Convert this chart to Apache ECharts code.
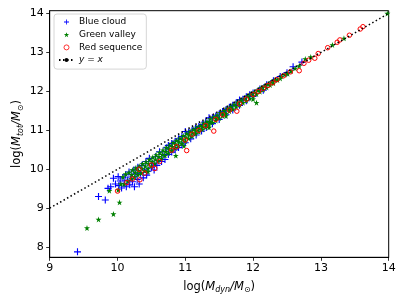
<!DOCTYPE html>
<html>
<head>
<meta charset="utf-8">
<script src="https://cdn.jsdelivr.net/npm/echarts@6/dist/echarts.min.js"></script>
<style>html,body{margin:0;padding:0;background:#fff}#c{width:407px;height:305px}</style>
</head>
<body>
<div id="c"></div>
<script>
// ---- data ----
const seriesNames = ['Blue cloud', 'Green valley', 'Red sequence', 'y = x'];
const xTicks = [9, 10, 11, 12, 13, 14];
const yTicks = [8, 9, 10, 11, 12, 13, 14];

const blueCloud = [
  [9.41,7.88],[9.72,9.30],[9.82,9.21],[9.86,9.51],[9.94,9.77],[10.01,9.81],[9.90,9.55],[9.97,9.62],
  [10.02,9.58],[10.04,9.70],[10.06,9.52],[10.08,9.78],[10.10,9.64],[10.12,9.86],[10.13,9.55],[10.15,9.72],
  [10.17,9.93],[10.18,9.60],[10.20,9.80],[10.22,9.68],[10.24,9.98],[10.25,9.55],[10.27,9.88],[10.29,9.74],
  [10.30,10.05],[10.32,9.62],[10.34,9.90],[10.36,10.10],[10.38,9.78],[10.40,10.00],[10.42,10.20],[10.43,9.85],
  [10.45,9.95],[10.47,10.28],[10.50,10.05],[10.52,10.15],[10.54,9.98],[10.56,10.32],[10.58,10.10],[10.60,10.22],
  [10.62,10.45],[10.65,10.20],[10.67,10.38],[10.70,10.25],[10.72,10.55],
  [10.75,10.61],[10.80,10.66],[10.85,10.72],[10.90,10.78],[10.95,10.84],[11.00,10.97],[11.05,10.95],[11.10,11.00],
  [11.15,11.05],[11.20,11.10],[11.25,11.15],[11.30,11.21],[11.35,11.32],[11.40,11.32],[11.45,11.37],[11.50,11.42],
  [11.55,11.48],[11.60,11.53],[11.65,11.59],[11.70,11.64],[11.75,11.70],[11.80,11.78],[11.85,11.80],[11.90,11.86],
  [11.95,11.91],[12.00,11.96],[12.10,12.06],[12.20,12.17],[12.30,12.27],[12.40,12.38],[12.50,12.48],[12.59,12.63],
  [12.72,12.75],
  [10.75,10.38],[10.80,10.44],[10.85,10.50],[10.90,10.56],[10.95,10.62],[11.00,10.68],[11.08,10.78],[11.16,10.88],
  [11.24,10.98],[11.31,11.07],[11.40,11.17],[11.50,11.28],[11.60,11.40],[11.70,11.52],[11.80,11.64],[11.90,11.76],
  [12.00,11.87],[12.15,12.03]
];

const greenValley = [
  [9.55,8.49],[9.72,8.71],[9.94,8.85],[10.03,9.15],[9.88,9.45],[10.01,9.47],[10.45,9.94],[10.86,10.35],
  [10.98,10.60],[11.35,11.07],[11.60,11.37],[12.00,11.80],[12.05,11.71],[13.98,14.00],[13.34,13.36],[13.17,13.19],
  [12.85,12.88],[12.77,12.83],[10.05,9.62],[10.08,9.80],
  [10.10,9.62],[10.12,9.88],[10.15,9.70],[10.17,9.92],[10.20,9.76],[10.22,9.98],[10.21,9.86],
  [10.25,9.80],[10.27,10.03],[10.26,9.92],[10.30,9.86],[10.32,10.08],[10.31,9.96],
  [10.35,9.90],[10.37,10.14],[10.36,10.02],[10.40,9.96],[10.42,10.19],[10.41,10.08],
  [10.45,10.02],[10.47,10.25],[10.46,10.14],[10.50,10.08],[10.52,10.31],[10.51,10.20],
  [10.55,10.15],[10.57,10.37],[10.56,10.26],[10.60,10.22],[10.62,10.43],[10.61,10.32],
  [10.65,10.28],[10.67,10.49],[10.66,10.38],[10.70,10.35],[10.72,10.56],[10.71,10.45],
  [10.75,10.41],[10.77,10.62],[10.76,10.52],[10.80,10.48],[10.82,10.68],[10.81,10.58],
  [10.85,10.54],[10.87,10.74],[10.86,10.64],[10.90,10.60],[10.92,10.80],[10.91,10.70],
  [10.95,10.66],[10.97,10.86],[10.96,10.76],[11.00,10.72],[11.02,10.92],[11.01,10.82],
  [11.05,10.79],[11.07,10.97],[11.06,10.88],[11.10,10.85],[11.12,11.02],[11.11,10.94],
  [11.15,10.91],[11.17,11.07],[11.16,10.99],[11.20,10.96],[11.22,11.12],[11.21,11.05],
  [11.25,11.02],[11.27,11.18],[11.26,11.10],[11.30,11.08],[11.32,11.23],[11.31,11.16],
  [11.35,11.14],[11.37,11.29],[11.36,11.22],[11.40,11.20],[11.42,11.34],
  [11.45,11.25],[11.47,11.39],[11.46,11.32],[11.50,11.31],[11.52,11.45],
  [11.55,11.37],[11.57,11.50],[11.56,11.44],[11.60,11.43],[11.62,11.56],
  [11.65,11.49],[11.67,11.61],[11.66,11.55],[11.70,11.54],[11.72,11.66],
  [11.75,11.60],[11.77,11.72],[11.80,11.65],[11.82,11.77],[11.85,11.71],[11.87,11.82],
  [11.90,11.76],[11.92,11.88],[11.95,11.82],[11.97,11.93],[12.00,11.88],[12.02,11.98],
  [12.05,11.93],[12.07,12.03],[12.10,11.99],[12.12,12.09],[12.15,12.04],[12.17,12.14],
  [12.20,12.10],[12.22,12.19],[12.25,12.16],[12.27,12.24],[12.30,12.21],[12.32,12.29],
  [12.36,12.29],[12.40,12.33],[12.42,12.39],[12.47,12.43],[12.51,12.45],[12.56,12.52],
  [12.62,12.59],[12.68,12.65]
];

const redSequence = [
  [10.00,9.44],[10.14,9.66],[10.33,9.73],[10.22,9.75],[10.32,10.00],[10.40,9.90],[10.50,10.11],[10.55,10.02],
  [10.62,10.20],[10.80,10.49],[11.02,10.48],[10.87,10.58],[11.00,10.75],[11.10,10.90],[11.20,11.00],[11.30,11.12],
  [11.42,10.98],[11.45,11.28],[11.55,11.40],[11.65,11.52],[11.76,11.49],[11.80,11.68],[11.90,11.80],[12.00,11.92],
  [12.08,12.00],[12.15,12.08],[12.22,12.15],[12.29,12.22],[12.35,12.30],[12.45,12.40],[12.55,12.50],[12.68,12.53],
  [12.75,12.72],[12.82,12.80],[12.91,12.85],[12.96,12.97],[13.10,13.12],[13.24,13.26],[13.28,13.32],[13.42,13.44],
  [13.58,13.60],[13.62,13.66]
];

const identityX = [9, 14];
const identityY = [9, 14];

// ---- chart ----
const FONT = 'DejaVu Sans';
const plusPath = 'path://M4.2,0H5.8V4.2H10V5.8H5.8V10H4.2V5.8H0V4.2H4.2Z';
const starPath = 'path://M50,0L61.2,34.5L97.6,34.5L68.2,55.9L79.4,90.5L50,69.1L20.6,90.5L31.8,55.9L2.4,34.5L38.8,34.5Z';

const chart = echarts.init(document.getElementById('c'), null, {renderer: 'canvas'});

const nameRich = {
  n: {fontFamily: FONT, fontSize: 11.5, color: '#000'},
  i: {fontFamily: FONT, fontSize: 11.5, fontStyle: 'italic', color: '#000'},
  s: {fontFamily: FONT, fontSize: 8, fontStyle: 'italic', color: '#000', padding: [7, 0, 0, 0]},
  o: {fontFamily: FONT, fontSize: 8, color: '#000', padding: [7, 0, 0, 0]}
};

chart.setOption({
  animation: false,
  backgroundColor: '#fff',
  grid: {
    left: 49.7, right: 18.3, top: 10.7, bottom: 47.7, outerBoundsMode: 'none', containLabel: false,
    show: true, borderColor: '#000', borderWidth: 1, backgroundColor: 'transparent'
  },
  xAxis: {
    type: 'value', min: xTicks[0], max: xTicks[xTicks.length - 1], interval: 1,
    axisLine: {show: true, onZero: false, lineStyle: {color: '#000', width: 1}},
    axisTick: {show: true, inside: false, length: 3.5, lineStyle: {color: '#000', width: 0.8}},
    axisLabel: {fontFamily: FONT, fontSize: 11, color: '#000', margin: 5},
    splitLine: {show: false},
    name: '{n|log(}{i|M}{s|dyn}{i|/M}{o|⊙}{n|)}',
    nameLocation: 'middle', nameGap: 22,
    nameTextStyle: {rich: nameRich}
  },
  yAxis: {
    type: 'value', min: 7.74, max: 14.07,
    axisLine: {show: true, onZero: false, lineStyle: {color: '#000', width: 1}},
    axisTick: {show: true, inside: false, length: 3.5, customValues: yTicks, lineStyle: {color: '#000', width: 0.8}},
    axisLabel: {fontFamily: FONT, fontSize: 11, color: '#000', margin: 6, customValues: yTicks},
    splitLine: {show: false},
    name: '{n|log(}{i|M}{s|tot}{i|/M}{o|⊙}{n|)}',
    nameLocation: 'middle', nameGap: 25, nameRotate: 90, nameMoveOverlap: false,
    nameTextStyle: {rich: nameRich}
  },
  legend: {
    show: true, orient: 'vertical', left: 54, top: 14,
    padding: [3, 4, 4, 4], itemGap: 2.7, itemWidth: 15, itemHeight: 5,
    backgroundColor: 'rgba(255,255,255,0.8)', borderColor: '#cccccc', borderWidth: 0.8, borderRadius: 3,
    textStyle: {fontFamily: FONT, fontSize: 9, color: '#000', lineHeight: 10,
      rich: {i: {fontFamily: FONT, fontSize: 9, fontStyle: 'italic', color: '#000'}}},
    formatter: function (name) { return name === 'y = x' ? '{i|y} = {i|x}' : name; },
    data: [
      {name: seriesNames[0], icon: plusPath},
      {name: seriesNames[1], icon: starPath},
      {name: seriesNames[2], icon: 'circle', itemStyle: {borderWidth: 0.8}},
      {name: seriesNames[3]}
    ]
  },
  series: [
    {
      name: seriesNames[0], type: 'scatter', data: blueCloud,
      symbol: plusPath, symbolSize: 7,
      itemStyle: {color: '#0000ff', opacity: 1}, z: 2, silent: true
    },
    {
      name: seriesNames[1], type: 'scatter', data: greenValley,
      symbol: starPath, symbolSize: 6,
      itemStyle: {color: '#008000', opacity: 1}, z: 3, silent: true
    },
    {
      name: seriesNames[2], type: 'scatter', data: redSequence,
      symbol: 'circle', symbolSize: 4.5,
      itemStyle: {color: 'rgba(255,255,255,0)', borderColor: '#ff0000', borderWidth: 1, opacity: 1}, z: 4, silent: true
    },
    {
      name: seriesNames[3], type: 'line', data: identityX.map((x, k) => [x, identityY[k]]),
      symbol: 'none', showSymbol: false,
      lineStyle: {color: '#000', width: 1.5, type: [1.5, 2.5]}, itemStyle: {color: '#000'}, z: 5, silent: true
    }
  ]
});
</script>
</body>
</html>
